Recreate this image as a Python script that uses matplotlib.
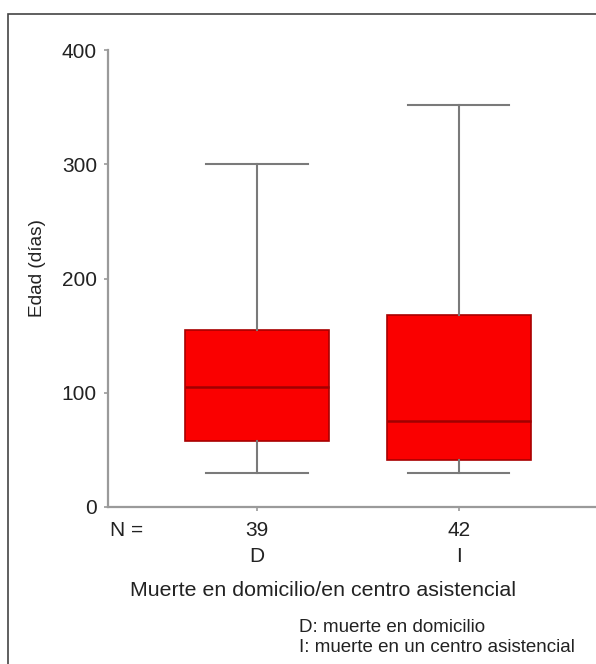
import matplotlib.pyplot as plt
from matplotlib.patches import Rectangle

# values (dias)
groups = ["D", "I"]
counts = [39, 42]
whisker_low = [30, 30]
q1 = [58, 41]
medians = [105, 75]
q3 = [155, 168]
whisker_high = [300, 352]

W, H = 596, 664
plt.rcParams['font.family'] = ['Liberation Sans', 'DejaVu Sans']

fig = plt.figure(figsize=(W / 100, H / 100), dpi=100)


def px(x, y):
    # pixel position (from top left) -> figure fraction
    return x / W, 1 - y / H


# axes box: y-spine at x=108, 0 at y=507, 400 at y=50
ax = fig.add_axes([108 / W, 1 - 507 / H, 1 - 108 / W, (507 - 50) / H])

stats = []
for i in range(len(groups)):
    stats.append(dict(whislo=whisker_low[i], q1=q1[i], med=medians[i],
                      q3=q3[i], whishi=whisker_high[i], fliers=[]))

ax.bxp(stats, positions=[1, 2], widths=0.71, capwidths=0.5,
       patch_artist=True, showfliers=False,
       boxprops=dict(facecolor='#fa0000', edgecolor='#a80000', linewidth=1.2),
       medianprops=dict(color='#a00000', linewidth=1.8),
       whiskerprops=dict(color='#7a7a7a', linewidth=1.5),
       capprops=dict(color='#7a7a7a', linewidth=1.5))

ax.set_xlim(1 - 149 / 202, 2 + 137 / 202)
ax.set_ylim(0, 400)
ax.set_yticks([0, 100, 200, 300, 400])
ax.set_xticks([1, 2])
ax.set_xticklabels([f"{n}\n{g}" for n, g in zip(counts, groups)],
                   linespacing=1.45)

for s in ['top', 'right']:
    ax.spines[s].set_visible(False)
for s in ['left', 'bottom']:
    ax.spines[s].set_color('#9a9a9a')
    ax.spines[s].set_linewidth(1.6)
ax.tick_params(axis='both', colors='#9a9a9a', length=3, width=1.2,
               labelcolor='#222222', labelsize=15)
ax.tick_params(axis='x', pad=7)
ax.tick_params(axis='y', pad=5)

fig.text(*px(38, 268), "Edad (días)", rotation=90, ha='center', va='center',
         fontsize=13.7, color='#222222')
fig.text(*px(110, 530), "N =", ha='left', va='center', fontsize=15,
         color='#222222')
fig.text(*px(323, 591), "Muerte en domicilio/en centro asistencial",
         ha='center', va='center', fontsize=15.4, color='#222222')
fig.text(*px(299, 627), "D: muerte en domicilio", ha='left', va='center',
         fontsize=13.5, color='#222222')
fig.text(*px(299, 648), "I: muerte en un centro asistencial", ha='left',
         va='center', fontsize=13.5, color='#222222')

# outer frame, runs past the right and bottom edges
fig.patches.append(Rectangle(px(8, H + 10), 1.2, (H + 10 - 14) / H,
                             transform=fig.transFigure, fill=False,
                             edgecolor='#444444', linewidth=1.2))

fig.savefig("out.png", dpi=100)
